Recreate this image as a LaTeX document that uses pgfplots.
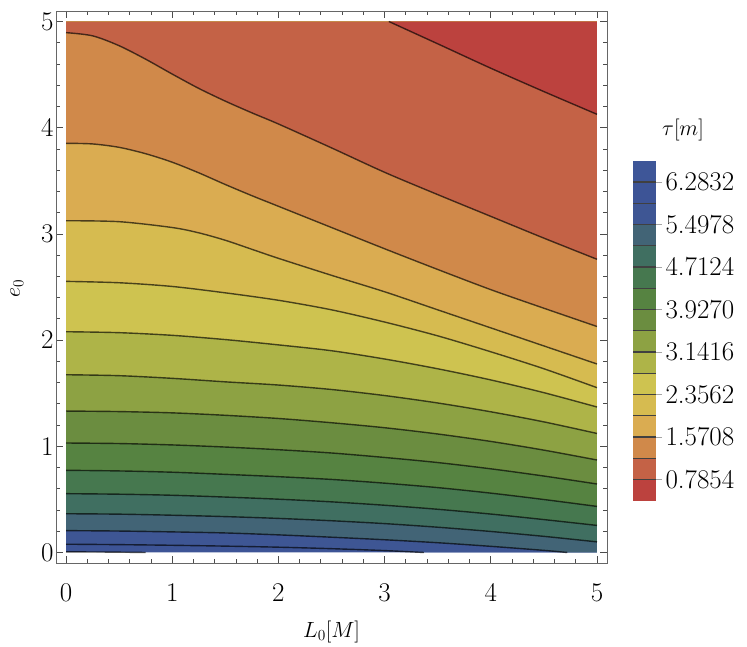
\RequirePackage{fix-cm}
\documentclass[border=0pt]{standalone}
\usepackage{pgfplots}
\usepackage{pgfplotstable}
\pgfplotsset{compat=1.18}

% band colours, lowest tau (1) to highest tau (16)
\definecolor{c1}{RGB}{188,66,62}
\definecolor{c2}{RGB}{196,98,70}
\definecolor{c3}{RGB}{208,137,74}
\definecolor{c4}{RGB}{218,172,81}
\definecolor{c5}{RGB}{214,187,80}
\definecolor{c6}{RGB}{206,195,80}
\definecolor{c7}{RGB}{174,180,72}
\definecolor{c8}{RGB}{141,162,67}
\definecolor{c9}{RGB}{107,141,64}
\definecolor{c10}{RGB}{86,131,65}
\definecolor{c11}{RGB}{70,120,79}
\definecolor{c12}{RGB}{64,111,97}
\definecolor{c13}{RGB}{66,100,118}
\definecolor{c14}{RGB}{62,86,148}
\definecolor{c15}{RGB}{61,84,150}
\definecolor{c16}{RGB}{62,86,152}

% contour lines tau = k*pi/8, k = 2 (A) ... 16 (O)
\pgfplotstableread{
x y
3.04 5
3.5 4.79
4.0 4.56
4.5 4.34
5.0 4.126
}\lineA
\pgfplotstableread{
x y
0 4.895
0.25 4.865
0.5 4.772
0.75 4.645
1.0 4.505
1.25 4.37
1.5 4.25
1.75 4.14
2.0 4.035
2.5 3.81
3.0 3.58
3.5 3.37
4.0 3.165
4.5 2.96
5.0 2.761
}\lineB
\pgfplotstableread{
x y
0 3.853
0.25 3.847
0.5 3.815
0.75 3.755
1.0 3.675
1.25 3.575
1.5 3.465
1.75 3.36
2.0 3.26
2.5 3.06
3.0 2.86
3.5 2.665
4.0 2.475
4.5 2.30
5.0 2.128
}\lineC
\pgfplotstableread{
x y
0 3.124
0.5 3.115
1.0 3.06
1.25 3.01
1.5 2.94
1.75 2.855
2.0 2.77
2.5 2.61
3.0 2.455
3.5 2.285
4.0 2.115
4.5 1.945
5.0 1.775
}\lineD
\pgfplotstableread{
x y
0 2.553
0.5 2.54
1.0 2.505
1.5 2.445
2.0 2.375
2.5 2.285
3.0 2.17
3.5 2.04
4.0 1.89
4.5 1.73
5.0 1.552
}\lineE
\pgfplotstableread{
x y
0 2.079
0.5 2.07
1.0 2.045
1.5 2.005
2.0 1.955
2.5 1.90
3.0 1.822
3.5 1.73
4.0 1.625
4.5 1.505
5.0 1.370
}\lineF
\pgfplotstableread{
x y
0 1.674
0.5 1.665
1.0 1.64
1.5 1.607
2.0 1.577
2.5 1.535
3.0 1.478
3.5 1.408
4.0 1.325
4.5 1.23
5.0 1.121
}\lineG
\pgfplotstableread{
x y
0 1.332
0.5 1.327
1.0 1.315
1.5 1.292
2.0 1.262
2.5 1.222
3.0 1.175
3.5 1.116
4.0 1.046
4.5 0.964
5.0 0.871
}\lineH
\pgfplotstableread{
x y
0 1.031
0.5 1.026
1.0 1.013
1.5 0.993
2.0 0.968
2.5 0.937
3.0 0.895
3.5 0.847
4.0 0.788
4.5 0.72
5.0 0.645
}\lineI
\pgfplotstableread{
x y
0 0.774
0.5 0.768
1.0 0.756
1.5 0.736
2.0 0.714
2.5 0.688
3.0 0.653
3.5 0.611
4.0 0.559
4.5 0.499
5.0 0.434
}\lineJ
\pgfplotstableread{
x y
0 0.554
0.5 0.549
1.0 0.539
1.5 0.522
2.0 0.502
2.5 0.477
3.0 0.445
3.5 0.407
4.0 0.362
4.5 0.31
5.0 0.255
}\lineK
\pgfplotstableread{
x y
0 0.365
0.5 0.361
1.0 0.351
1.5 0.338
2.0 0.321
2.5 0.299
3.0 0.272
3.5 0.238
4.0 0.198
4.5 0.152
5.0 0.10
}\lineL
\pgfplotstableread{
x y
0 0.206
0.5 0.202
1.0 0.194
1.5 0.184
2.0 0.166
2.5 0.144
3.0 0.12
3.5 0.092
4.0 0.058
4.5 0.02
4.72 0
}\lineM
\pgfplotstableread{
x y
0 0.078
0.5 0.074
1.0 0.068
1.5 0.06
2.0 0.05
2.5 0.036
3.0 0.018
3.37 0
}\lineN
\pgfplotstableread{
x y
0 0.006
0.4 0.004
0.75 0
}\lineO

\pgfplotsset{
  cline/.style={draw=black, draw opacity=0.65, line width=1.4pt, smooth},
  band/.style={fill=#1, draw=none, smooth},
}

\begin{document}
\begin{tikzpicture}
\begin{axis}[
    at={(0pt,0pt)}, anchor=south west,
    scale only axis, width=551pt, height=552pt,
    xmin=-0.0943, xmax=5.0943, ymin=-0.0989, ymax=5.0989,
    xtick={0,1,2,3,4,5}, ytick={0,1,2,3,4,5},
    minor x tick num=4, minor y tick num=4,
    tick align=inside,
    major tick length=7pt, minor tick length=4pt,
    axis line style={draw=black!60, line width=0.9pt},
    every tick/.style={black!70, line width=0.8pt},
    ticklabel style={font=\fontsize{27}{32}\selectfont},
    xticklabel style={yshift=-18pt},
    yticklabel style={xshift=1pt},
    xlabel={$L_0[M]$}, ylabel={$e_0$},
    label style={font=\fontsize{22}{26}\selectfont},
    xlabel style={at={(axis description cs:0.5,-0.125)}, anchor=center},
    ylabel style={at={(axis description cs:-0.071,0.497)}, anchor=center, inner sep=0pt},
]
% filled bands, painted from high tau (bottom) to low tau (top right)
\addplot[fill=c16, draw=none] coordinates {(0,0) (5,0) (5,5) (0,5)} -- cycle;
\addplot[band=c15] table {\lineO} -- (5,0) -- (5,5) -- (0,5) -- cycle;
\addplot[band=c14] table {\lineN} -- (5,0) -- (5,5) -- (0,5) -- cycle;
\addplot[band=c13] table {\lineM} -- (5,0) -- (5,5) -- (0,5) -- cycle;
\addplot[band=c12] table {\lineL} -- (5,5) -- (0,5) -- cycle;
\addplot[band=c11] table {\lineK} -- (5,5) -- (0,5) -- cycle;
\addplot[band=c10] table {\lineJ} -- (5,5) -- (0,5) -- cycle;
\addplot[band=c9] table {\lineI} -- (5,5) -- (0,5) -- cycle;
\addplot[band=c8] table {\lineH} -- (5,5) -- (0,5) -- cycle;
\addplot[band=c7] table {\lineG} -- (5,5) -- (0,5) -- cycle;
\addplot[band=c6] table {\lineF} -- (5,5) -- (0,5) -- cycle;
\addplot[band=c5] table {\lineE} -- (5,5) -- (0,5) -- cycle;
\addplot[band=c4] table {\lineD} -- (5,5) -- (0,5) -- cycle;
\addplot[band=c3] table {\lineC} -- (5,5) -- (0,5) -- cycle;
\addplot[band=c2] table {\lineB} -- (5,5) -- (0,5) -- cycle;
\addplot[band=c1] table {\lineA} -- (5,5) -- cycle;
% contour lines
\addplot[cline] table {\lineA};
\addplot[cline] table {\lineB};
\addplot[cline] table {\lineC};
\addplot[cline] table {\lineD};
\addplot[cline] table {\lineE};
\addplot[cline] table {\lineF};
\addplot[cline] table {\lineG};
\addplot[cline] table {\lineH};
\addplot[cline] table {\lineI};
\addplot[cline] table {\lineJ};
\addplot[cline] table {\lineK};
\addplot[cline] table {\lineL};
\addplot[cline] table {\lineM};
\addplot[cline] table {\lineN};
\addplot[cline] table {\lineO};
\end{axis}

% bar legend
\begin{axis}[
    at={(577pt,62.3pt)}, anchor=south west,
    scale only axis, width=23pt, height=340pt,
    xmin=0, xmax=1, ymin=0.3927, ymax=6.6759,
    axis on top,
    axis line style={draw=none},
    xtick=\empty,
    ytick={0.7854,1.5708,2.3562,3.1416,3.9270,4.7124,5.4978,6.2832},
    yticklabels={0.7854,1.5708,2.3562,3.1416,3.9270,4.7124,5.4978,6.2832},
    minor ytick={1.1781,1.9635,2.7489,3.5343,4.3197,5.1051,5.8905},
    ytick pos=right, yticklabel pos=right,
    tick align=outside, major tick length=6pt, minor tick length=0pt,
    every tick/.style={black!35, line width=0.8pt},
    grid=both,
    major grid style={black!75, line width=1.2pt},
    minor grid style={black!75, line width=1.2pt},
    yticklabel style={font=\fontsize{27}{32}\selectfont},
]
\addplot[fill=c1, draw=none] coordinates {(0,0.3927) (1,0.3927) (1,0.7854) (0,0.7854)} -- cycle;
\addplot[fill=c2, draw=none] coordinates {(0,0.7854) (1,0.7854) (1,1.1781) (0,1.1781)} -- cycle;
\addplot[fill=c3, draw=none] coordinates {(0,1.1781) (1,1.1781) (1,1.5708) (0,1.5708)} -- cycle;
\addplot[fill=c4, draw=none] coordinates {(0,1.5708) (1,1.5708) (1,1.9635) (0,1.9635)} -- cycle;
\addplot[fill=c5, draw=none] coordinates {(0,1.9635) (1,1.9635) (1,2.3562) (0,2.3562)} -- cycle;
\addplot[fill=c6, draw=none] coordinates {(0,2.3562) (1,2.3562) (1,2.7489) (0,2.7489)} -- cycle;
\addplot[fill=c7, draw=none] coordinates {(0,2.7489) (1,2.7489) (1,3.1416) (0,3.1416)} -- cycle;
\addplot[fill=c8, draw=none] coordinates {(0,3.1416) (1,3.1416) (1,3.5343) (0,3.5343)} -- cycle;
\addplot[fill=c9, draw=none] coordinates {(0,3.5343) (1,3.5343) (1,3.9270) (0,3.9270)} -- cycle;
\addplot[fill=c10, draw=none] coordinates {(0,3.9270) (1,3.9270) (1,4.3197) (0,4.3197)} -- cycle;
\addplot[fill=c11, draw=none] coordinates {(0,4.3197) (1,4.3197) (1,4.7124) (0,4.7124)} -- cycle;
\addplot[fill=c12, draw=none] coordinates {(0,4.7124) (1,4.7124) (1,5.1051) (0,5.1051)} -- cycle;
\addplot[fill=c13, draw=none] coordinates {(0,5.1051) (1,5.1051) (1,5.4978) (0,5.4978)} -- cycle;
\addplot[fill=c14, draw=none] coordinates {(0,5.4978) (1,5.4978) (1,5.8905) (0,5.8905)} -- cycle;
\addplot[fill=c15, draw=none] coordinates {(0,5.8905) (1,5.8905) (1,6.2832) (0,6.2832)} -- cycle;
\addplot[fill=c16, draw=none] coordinates {(0,6.2832) (1,6.2832) (1,6.6759) (0,6.6759)} -- cycle;
\end{axis}
\node[font=\fontsize{22}{26}\selectfont] at (627pt,433pt) {$\tau[m]$};

\pgfresetboundingbox
\path[use as bounding box] (-56pt,-83pt) rectangle (691pt,563pt);
\end{tikzpicture}
\end{document}
